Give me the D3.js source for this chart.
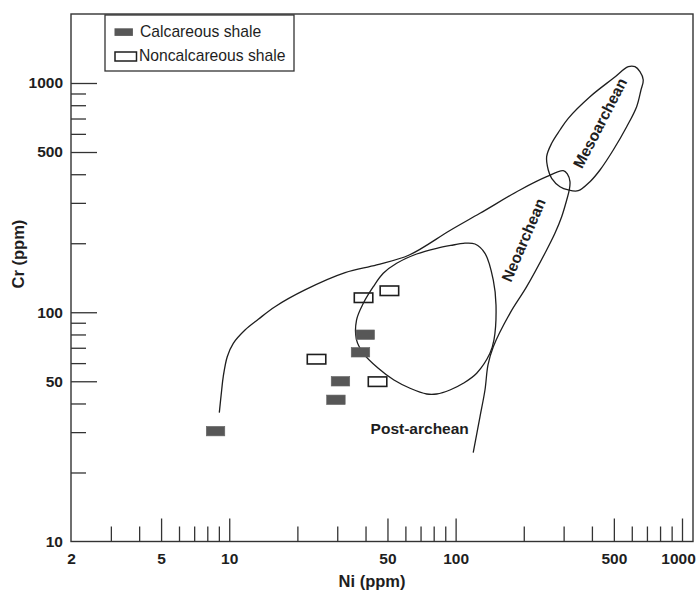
<!DOCTYPE html>
<html>
<head>
<meta charset="utf-8">
<script src="https://cdn.jsdelivr.net/npm/d3@7"></script>
<style>
  html, body { margin: 0; padding: 0; background: #fff; }
  svg { display: block; font-family: "Liberation Sans", Arial, Helvetica, sans-serif; }
</style>
</head>
<body>
<svg id="chart" width="698" height="592"></svg>
<script>
// ---------------- data ----------------
// Calcareous shale samples (Ni ppm, Cr ppm)
const calcNi = [8.7, 31.0, 29.6, 38.0, 39.9];
const calcCr = [30.3, 50.0, 41.5, 66.9, 79.8];
// Noncalcareous shale samples
const noncalcNi = [24.3, 39.2, 51.0, 45.2];
const noncalcCr = [62.4, 115.7, 124.1, 49.8];

// Neoarchean boundary (open curve)
const neoNi = [9.04, 9.26, 9.41, 9.80, 10.42, 11.74, 13.44, 15.93, 21.6, 32.5, 44.8, 62.4, 94.4, 128.1, 192.4, 252.4, 298.9, 311.4, 320.0, 317.7, 309.5, 294.1, 274.6, 252.4, 206.0, 173.8, 146.7, 139.0, 134.8, 128.1, 119.6];
const neoCr = [36.5, 45.8, 52.4, 64.0, 73.2, 83.7, 93.2, 105.7, 125.1, 148.8, 160.8, 177.7, 227.3, 270.2, 341.5, 390.2, 414.4, 401.0, 371.1, 341.5, 308.7, 261.1, 221.0, 186.9, 129.3, 98.9, 70.7, 58.9, 45.8, 35.0, 24.4];

// Post-archean field (closed curve)
const postNi = [108.1, 121.8, 134.8, 146.7, 150.8, 147.7, 141.8, 123.9, 108.1, 94.4, 82.5, 74.5, 62.9, 53.4, 45.4, 39.1, 36.5, 36.5, 39.1, 43.3, 47.9, 54.9, 67.3, 82.5, 97.6];
const postCr = [199.9, 198.5, 180.8, 138.2, 107.6, 75.7, 66.2, 54.2, 49.0, 45.8, 44.0, 44.0, 46.6, 50.6, 57.1, 66.2, 75.7, 92.5, 109.4, 129.3, 147.9, 163.5, 179.5, 190.1, 196.5];

// Mesoarchean field (closed curve)
const mesoNi = [252.4, 256.6, 265.6, 289.1, 314.5, 348.1, 392.2, 434.2, 497.0, 569.7, 630.5, 658.8, 674.3, 652.1, 619.7, 579.1, 497.0, 392.2, 314.5, 289.1, 265.6];
const mesoCr = [477.0, 417.4, 383.9, 352.9, 341.5, 339.0, 371.1, 417.4, 510.3, 644.8, 788.2, 932.2, 1030.6, 1120.2, 1178.0, 1178.0, 1048.4, 871.4, 701.5, 623.7, 545.8];

// Field labels
const fieldLabels = ["Mesoarchean", "Neoarchean", "Post-archean"];
const fieldLabelNi = [434.2, 199.4, 69.4];
const fieldLabelCr = [669, 206.6, 31.1];
const fieldLabelAngle = [-62.6, -66.7, 0];

// Axis ticks
const xMajorTicks = [5, 10, 50, 100, 500, 1000];
const xMinorTicks = [3, 4, 6, 7, 8, 9, 20, 30, 40, 60, 70, 80, 90, 200, 300, 400, 600, 700, 800, 900];
const xTickLabels = [2, 5, 10, 50, 100, 500, 1000];
const yMajorTicks = [50, 100, 500, 1000];
const yMinorTicks = [20, 30, 40, 60, 70, 80, 90, 200, 300, 400, 600, 700, 800, 900];
const yTickLabels = [10, 50, 100, 500, 1000];

const legendLabels = ["Calcareous shale", "Noncalcareous shale"];

// ---------------- layout ----------------
const svg = d3.select("#chart");
const plotL = 71, plotR = 693, plotT = 14, plotB = 541.5;
const ink = "#1e1e1e";

const x = d3.scaleLog().domain([2, 1000]).range([plotL, 682]);
const y = d3.scaleLog().domain([10, 1000]).range([plotB, 83]);

// frame
svg.append("rect")
  .attr("x", plotL).attr("y", plotT)
  .attr("width", plotR - plotL).attr("height", plotB - plotT)
  .attr("fill", "none").attr("stroke", "#333").attr("stroke-width", 1.4);

// ticks
function styleTicks(g) {
  g.select(".domain").remove();
  g.selectAll("line").attr("stroke", "#333").attr("stroke-width", 1.3);
  g.selectAll("text").remove();
}
svg.append("g").attr("transform", `translate(0,${plotB})`)
  .call(d3.axisTop(x).tickValues(xMajorTicks).tickSize(23)).call(styleTicks);
svg.append("g").attr("transform", `translate(0,${plotB})`)
  .call(d3.axisTop(x).tickValues(xMinorTicks).tickSize(15)).call(styleTicks);
svg.append("g").attr("transform", `translate(${plotL},0)`)
  .call(d3.axisRight(y).tickValues(yMajorTicks).tickSize(26)).call(styleTicks);
svg.append("g").attr("transform", `translate(${plotL},0)`)
  .call(d3.axisRight(y).tickValues(yMinorTicks).tickSize(15)).call(styleTicks);

// tick labels
function styleLabels(g) {
  g.select(".domain").remove();
  g.selectAll("line").remove();
  g.selectAll("text")
    .attr("font-size", 15.5).attr("font-weight", "bold")
    .attr("fill", ink).attr("font-family", '"Liberation Sans", Arial, sans-serif');
}
const xLab = svg.append("g").attr("transform", `translate(0,${plotB})`)
  .call(d3.axisBottom(x).tickValues(xTickLabels).tickSize(0).tickPadding(11.5).tickFormat(d3.format("d")))
  .call(styleLabels);
// keep the last label inside the picture, as in the reference
xLab.selectAll("text").filter(d => d === 1000).attr("dx", "-4");
svg.append("g").attr("transform", `translate(${plotL},0)`)
  .call(d3.axisLeft(y).tickValues(yTickLabels).tickSize(0).tickPadding(8).tickFormat(d3.format("d")))
  .call(styleLabels);

// axis titles
svg.append("text")
  .attr("x", 372).attr("y", 587)
  .attr("text-anchor", "middle")
  .attr("font-size", 16.5).attr("font-weight", "bold").attr("fill", ink)
  .text("Ni (ppm)");
svg.append("text")
  .attr("transform", "translate(24,254) rotate(-90)")
  .attr("text-anchor", "middle")
  .attr("font-size", 16.5).attr("font-weight", "bold").attr("fill", ink)
  .text("Cr (ppm)");

// curves
const toPts = (xs, ys) => xs.map((v, i) => [v, ys[i]]);
const lineOpen = d3.line().x(d => x(d[0])).y(d => y(d[1])).curve(d3.curveCatmullRom.alpha(0.5));
const lineClosed = d3.line().x(d => x(d[0])).y(d => y(d[1])).curve(d3.curveCatmullRomClosed.alpha(0.5));

svg.append("path").attr("d", lineOpen(toPts(neoNi, neoCr)))
  .attr("fill", "none").attr("stroke", ink).attr("stroke-width", 1.3);
svg.append("path").attr("d", lineClosed(toPts(postNi, postCr)))
  .attr("fill", "none").attr("stroke", ink).attr("stroke-width", 1.3);
svg.append("path").attr("d", lineClosed(toPts(mesoNi, mesoCr)))
  .attr("fill", "none").attr("stroke", ink).attr("stroke-width", 1.3);

// field labels
svg.selectAll("text.field").data(fieldLabels).enter().append("text")
  .attr("class", "field")
  .attr("transform", (d, i) => `translate(${x(fieldLabelNi[i])},${y(fieldLabelCr[i])}) rotate(${fieldLabelAngle[i]})`)
  .attr("text-anchor", "middle").attr("dominant-baseline", "central")
  .attr("font-size", 15.5).attr("font-weight", "bold").attr("fill", ink)
  .text(d => d);

// data points
const rw = 18.5, rh = 9.5;
svg.selectAll("rect.calc").data(toPts(calcNi, calcCr)).enter().append("rect")
  .attr("class", "calc")
  .attr("x", d => x(d[0]) - rw / 2).attr("y", d => y(d[1]) - rh / 2)
  .attr("width", rw).attr("height", rh)
  .attr("fill", "#575757").attr("stroke", "#666").attr("stroke-width", 0.6);
svg.selectAll("rect.noncalc").data(toPts(noncalcNi, noncalcCr)).enter().append("rect")
  .attr("class", "noncalc")
  .attr("x", d => x(d[0]) - rw / 2).attr("y", d => y(d[1]) - rh / 2)
  .attr("width", rw).attr("height", rh)
  .attr("fill", "none").attr("stroke", ink).attr("stroke-width", 1.6);

// legend
const lg = svg.append("g");
lg.append("rect").attr("x", 105).attr("y", 15).attr("width", 189).attr("height", 56)
  .attr("fill", "#fff").attr("stroke", "#333").attr("stroke-width", 1.3);
lg.append("rect").attr("x", 114.5).attr("y", 28.3).attr("width", 18.4).attr("height", 7.6)
  .attr("fill", "#575757");
lg.append("rect").attr("x", 115).attr("y", 52).attr("width", 21.5).attr("height", 9)
  .attr("fill", "none").attr("stroke", ink).attr("stroke-width", 1.5);
lg.selectAll("text").data(legendLabels).enter().append("text")
  .attr("x", (d, i) => i === 0 ? 140 : 139)
  .attr("y", (d, i) => i === 0 ? 36.8 : 61.2)
  .attr("font-size", 15.7).attr("fill", ink)
  .text(d => d);
</script>
</body>
</html>
